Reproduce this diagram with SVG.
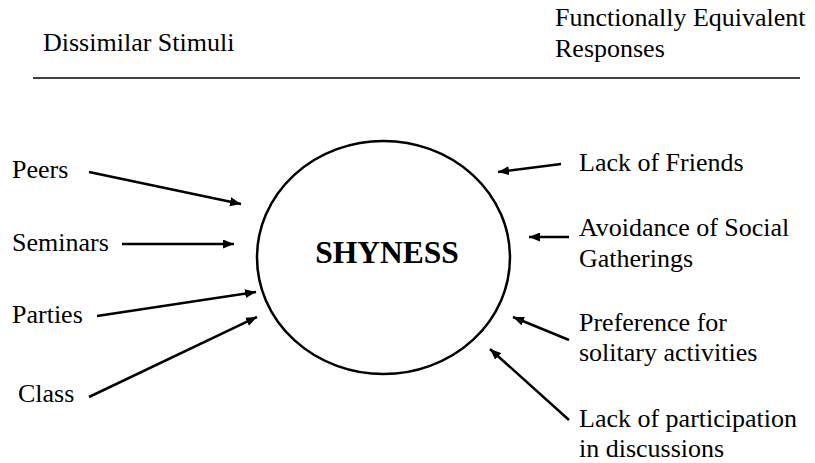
<svg xmlns="http://www.w3.org/2000/svg" width="815" height="463" viewBox="0 0 815 463">
<style>
text { font-family: "Liberation Serif", "Times New Roman", serif; font-size: 26px; fill: #000; }
.title { font-weight: bold; font-size: 31.5px; }
.conn line { stroke: #000; stroke-width: 2.5; marker-end: url(#ah); }
</style>
<defs>
<marker id="ah" markerUnits="userSpaceOnUse" markerWidth="11" markerHeight="9" refX="11" refY="4.5" orient="auto">
<path d="M0,0 L11,4.5 L0,9 z" fill="#000"/>
</marker>
</defs>
<rect width="815" height="463" fill="#fff"/>
<g id="header">
<text x="43" y="51">Dissimilar Stimuli</text>
<text x="555" y="26">Functionally Equivalent</text>
<text x="555" y="57">Responses</text>
<line x1="33" y1="78" x2="800" y2="78" stroke="#000" stroke-width="1.5"/>
</g>
<g id="shyness">
<ellipse cx="383.5" cy="257.5" rx="126.5" ry="116.5" fill="none" stroke="#000" stroke-width="2.5"/>
<text class="title" x="387" y="263" text-anchor="middle">SHYNESS</text>
</g>
<g id="peers"><text x="12" y="178">Peers</text></g>
<g id="seminars"><text x="12" y="251">Seminars</text></g>
<g id="parties"><text x="12" y="323">Parties</text></g>
<g id="class"><text x="18" y="402">Class</text></g>
<g id="lack-of-friends"><text x="579" y="171">Lack of Friends</text></g>
<g id="avoidance"><text x="579" y="236">Avoidance of Social</text><text x="579" y="267">Gatherings</text></g>
<g id="preference"><text x="579" y="331">Preference for</text><text x="579" y="361">solitary activities</text></g>
<g id="participation"><text x="579" y="427">Lack of participation</text><text x="579" y="457">in discussions</text></g>
<g class="conn" id="connectors">
<line x1="89" y1="172" x2="241" y2="204"/>
<line x1="122" y1="244" x2="234" y2="244"/>
<line x1="97" y1="316" x2="256" y2="292"/>
<line x1="89" y1="397" x2="257" y2="317"/>
<line x1="561" y1="164" x2="498" y2="172"/>
<line x1="569" y1="237" x2="529" y2="237"/>
<line x1="569" y1="340" x2="513" y2="317"/>
<line x1="569" y1="420" x2="490" y2="349"/>
</g>
</svg>
